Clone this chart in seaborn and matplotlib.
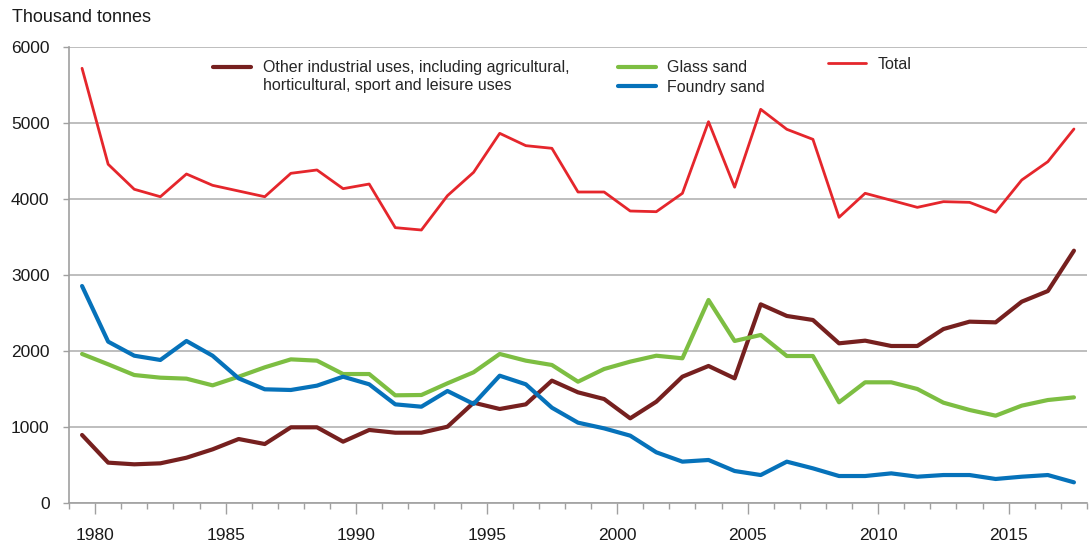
import numpy as np
import pandas as pd
import matplotlib
matplotlib.use("Agg")
import matplotlib.pyplot as plt
from matplotlib.legend_handler import HandlerLine2D
import seaborn as sns

years = list(range(1979, 2018))

other_uses = [895, 531, 509, 522, 596, 706, 842, 776, 996, 996, 807, 961, 925, 925,
              1004, 1320, 1237, 1298, 1610, 1456, 1368, 1114, 1333, 1662, 1803, 1640,
              2614, 2461, 2408, 2101, 2136, 2066, 2066, 2289, 2386, 2377, 2649, 2789, 3320]
glass_sand = [1961, 1825, 1684, 1649, 1636, 1548, 1662, 1785, 1890, 1873, 1697, 1697, 1417, 1421,
              1575, 1720, 1961, 1873, 1816, 1596, 1763, 1860, 1938, 1904, 2671, 2132,
              2211, 1934, 1934, 1325, 1588, 1588, 1500, 1320, 1224, 1149, 1281, 1355, 1390]
foundry_sand = [2855, 2123, 1938, 1882, 2132, 1938, 1640, 1496, 1487, 1544, 1662, 1562, 1298, 1267,
                1474, 1303, 1675, 1562, 1254, 1057, 982, 886, 667, 544, 566, 421,
                368, 544, 456, 355, 355, 390, 346, 368, 368, 316, 346, 368, 272]
total = [5720, 4457, 4128, 4030, 4329, 4180, 4105, 4030, 4338, 4382, 4136, 4197, 3623, 3592,
         4044, 4351, 4864, 4702, 4667, 4092, 4092, 3842, 3833, 4075, 5017, 4155,
         5180, 4917, 4785, 3759, 4075, 3983, 3890, 3965, 3956, 3825, 4250, 4491, 4921]

labels = ["Other industrial uses, including agricultural,\nhorticultural, sport and leisure uses",
          "Glass sand", "Foundry sand", "Total"]
colors = ["#76201F", "#7DBE42", "#0672BA", "#E5262C"]
widths = [3.0, 3.0, 3.0, 2.0]


class TopLineHandler(HandlerLine2D):
    # put the legend line next to the first text line, not the middle
    def create_artists(self, legend, orig_handle, xdescent, ydescent,
                       width, height, fontsize, trans):
        arts = super().create_artists(legend, orig_handle, xdescent, ydescent,
                                      width, height, fontsize, trans)
        for a in arts:
            a.set_ydata(np.asarray(a.get_ydata()) + 0.6 * fontsize)
        return arts


sns.set_style("white")
plt.rcParams['font.family'] = ['Liberation Sans', 'DejaVu Sans']

df = pd.DataFrame({"year": years, labels[0]: other_uses, labels[1]: glass_sand,
                   labels[2]: foundry_sand, labels[3]: total})
# points sit in the middle of each year
df["x"] = df["year"] + 0.5

fig = plt.figure(figsize=(10.9, 5.44), dpi=100)
ax = fig.add_axes([69/1090, 1-503/544, 1018/1090, 456/544])

handles = []
for lab, col, lw in zip(labels, colors, widths):
    sns.lineplot(data=df, x="x", y=lab, color=col, lw=lw, ax=ax,
                 solid_joinstyle='round', solid_capstyle='round')
    handles.append(ax.lines[-1])

ax.set_xlim(1979, 2018)
ax.set_ylim(0, 6000)
ax.set_xticks(range(1980, 2016, 5))
ax.set_xticks(range(1979, 2019), minor=True)
ax.set_yticks(range(0, 6001, 1000))
ax.set_xlabel("")
ax.set_ylabel("")
ax.yaxis.grid(True, color="#B3B3B3", lw=1.2)
ax.set_axisbelow(True)
for s in ["top", "right"]:
    ax.spines[s].set_visible(False)
for s in ["left", "bottom"]:
    ax.spines[s].set_color("#A0A0A0")
    ax.spines[s].set_linewidth(1.2)
ax.tick_params(axis="x", which="major", length=8, width=1, color="#A0A0A0",
               direction="out", pad=10, labelsize=12.5, labelcolor="#1a1a1a", bottom=True)
ax.tick_params(axis="x", which="minor", length=4, width=1, color="#A0A0A0",
               direction="out", bottom=True)
ax.tick_params(axis="y", length=4, width=1, color="#A0A0A0", direction="out",
               pad=10, labelsize=12.5, labelcolor="#1a1a1a", left=True)

leg_kw = dict(frameon=False, borderpad=0, borderaxespad=0, handlelength=2.4,
              handletextpad=0.7, fontsize=11.5, labelspacing=0.3, loc="upper left")
leg1 = ax.legend([handles[0]], [labels[0]], bbox_to_anchor=(0.1415, 0.971),
                 handler_map={handles[0]: TopLineHandler()}, **leg_kw)
ax.add_artist(leg1)
leg2 = ax.legend(handles[1:3], labels[1:3], bbox_to_anchor=(0.539, 0.971), **leg_kw)
ax.add_artist(leg2)
ax.legend([handles[3]], [labels[3]], bbox_to_anchor=(0.7456, 0.978), **leg_kw)

fig.text(12/1090, 1-17/544, "Thousand tonnes", fontsize=13, va="center", color="#1a1a1a")

fig.savefig("out.png", dpi=100)
